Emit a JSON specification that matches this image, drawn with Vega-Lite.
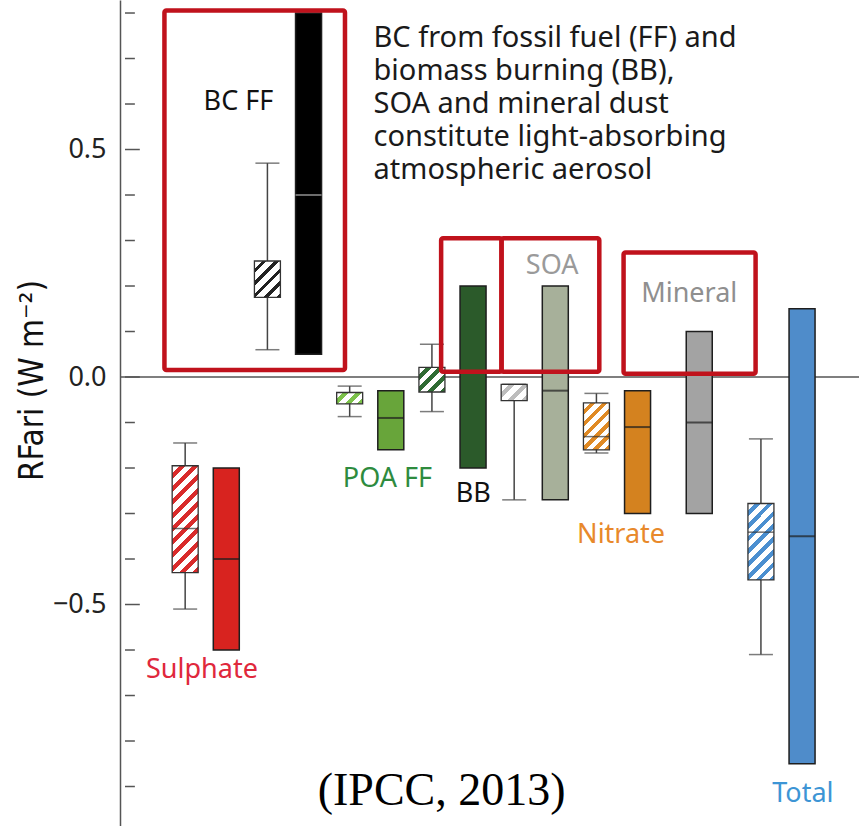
{
  "$schema": "https://vega.github.io/schema/vega-lite/v6.json",
  "width": 739,
  "height": 826,
  "autosize": "none",
  "padding": {"left": 120, "top": 0, "right": 0, "bottom": 0},
  "background": "white",
  "config": {"view": {"stroke": null}, "font": "Noto Sans"},
  "datasets": {
    "hatch": [
      {"name": "Sulphate", "slot": 0, "lo": -0.51, "q1": -0.43, "med": -0.333, "q3": -0.195, "hi": -0.145},
      {"name": "BC FF", "slot": 2, "lo": 0.06, "q1": 0.175, "med": null, "q3": 0.255, "hi": 0.47},
      {"name": "POA FF", "slot": 4, "lo": -0.087, "q1": -0.059, "med": null, "q3": -0.034, "hi": -0.02},
      {"name": "BB", "slot": 6, "lo": -0.076, "q1": -0.033, "med": null, "q3": 0.021, "hi": 0.072},
      {"name": "SOA", "slot": 8, "lo": -0.27, "q1": -0.052, "med": null, "q3": -0.016, "hi": -0.016},
      {"name": "Nitrate", "slot": 10, "lo": -0.167, "q1": -0.16, "med": -0.131, "q3": -0.057, "hi": -0.036},
      {"name": "Total", "slot": 14, "lo": -0.61, "q1": -0.446, "med": -0.341, "q3": -0.278, "hi": -0.136}
    ],
    "solid": [
      {"name": "Sulphate", "slot": 1, "lo": -0.6, "med": -0.4, "hi": -0.2},
      {"name": "BC FF", "slot": 3, "lo": 0.05, "med": 0.4, "hi": 0.8},
      {"name": "POA FF", "slot": 5, "lo": -0.16, "med": -0.09, "hi": -0.03},
      {"name": "BB", "slot": 7, "lo": -0.2, "med": null, "hi": 0.2},
      {"name": "SOA", "slot": 9, "lo": -0.27, "med": -0.03, "hi": 0.2},
      {"name": "Nitrate", "slot": 11, "lo": -0.3, "med": -0.11, "hi": -0.03},
      {"name": "Mineral", "slot": 12.5, "lo": -0.3, "med": -0.1, "hi": 0.1},
      {"name": "Total", "slot": 15, "lo": -0.85, "med": -0.35, "hi": 0.15}
    ],
    "frames": [
      {"slot": -0.504, "slot2": 3.886, "top": 0.8055, "bottom": 0.0154},
      {"slot": 6.224, "slot2": 7.692, "top": 0.305, "bottom": 0.0117},
      {"slot": 7.692, "slot2": 10.07, "top": 0.305, "bottom": 0.0117},
      {"slot": 10.66, "slot2": 13.87, "top": 0.2736, "bottom": 0.0073}
    ],
    "labels": [
      {"label": "BC FF", "slot": 1.295, "v": 0.587},
      {"label": "Sulphate", "slot": 0.408, "v": -0.6615},
      {"label": "POA FF", "slot": 4.917, "v": -0.2418},
      {"label": "BB", "slot": 7.004, "v": -0.2747},
      {"label": "SOA", "slot": 8.923, "v": 0.2264},
      {"label": "Mineral", "slot": 12.257, "v": 0.1648},
      {"label": "Nitrate", "slot": 10.6, "v": -0.3648},
      {"label": "Total", "slot": 15.02, "v": -0.934}
    ],
    "minorTicks": [
      {"v": -0.9}, {"v": -0.8}, {"v": -0.7}, {"v": -0.6}, {"v": -0.4}, {"v": -0.3}, {"v": -0.2}, {"v": -0.1},
      {"v": 0.1}, {"v": 0.2}, {"v": 0.3}, {"v": 0.4}, {"v": 0.6}, {"v": 0.7}, {"v": 0.8}
    ],
    "majorTicks": [{"v": -0.5}, {"v": 0}, {"v": 0.5}]
  },
  "layer": [
    {
      "data": {"values": [{"v": 0}]},
      "mark": {"type": "rule", "color": "#555", "strokeWidth": 1.5},
      "encoding": {
        "y": {
          "field": "v",
          "type": "quantitative",
          "scale": {"domain": [-0.9868, 0.8286], "nice": false, "zero": false},
          "axis": {
            "title": "RFari (W m⁻²)",
            "values": [-0.5, 0, 0.5],
            "format": ".1f",
            "labelFont": "Noto Sans",
            "labelFontSize": 27,
            "labelColor": "#222",
            "labelPadding": 14,
            "labelOverlap": false,
            "ticks": false,
            "domainColor": "#555",
            "domainWidth": 1.5,
            "grid": false,
            "titleFont": "Liberation Sans Narrow, DejaVu Sans Condensed, sans-serif",
            "titleFontSize": 33,
            "titleFontWeight": "normal",
            "titleColor": "#111",
            "titleAngle": 270,
            "titleX": -78,
            "titleY": 380,
            "titleAlign": "center",
            "titleBaseline": "alphabetic"
          }
        }
      }
    },
    {
      "data": {"name": "minorTicks"},
      "mark": {"type": "rule", "color": "#555", "strokeWidth": 1.5},
      "encoding": {
        "x": {"datum": -1.463, "type": "quantitative", "scale": {"domain": [-1.463, 16.263], "nice": false, "zero": false}, "axis": null},
        "x2": {"datum": -1.223},
        "y": {"field": "v", "type": "quantitative"}
      }
    },
    {
      "data": {"name": "majorTicks"},
      "mark": {"type": "rule", "color": "#555", "strokeWidth": 1.5},
      "encoding": {
        "x": {"datum": -1.463, "type": "quantitative", "axis": null},
        "x2": {"datum": -1.103},
        "y": {"field": "v", "type": "quantitative"}
      }
    },
    {
      "data": {"name": "hatch"},
      "mark": {"type": "rule", "color": "#444", "strokeWidth": 1.5},
      "encoding": {
        "x": {"field": "slot", "type": "quantitative", "scale": {"domain": [-1.463, 16.263], "nice": false, "zero": false}, "axis": null},
        "y": {"field": "lo", "type": "quantitative"},
        "y2": {"field": "hi"}
      }
    },
    {
      "data": {"name": "hatch"},
      "mark": {"type": "tick", "orient": "horizontal", "size": 24, "thickness": 1.5, "color": "#444"},
      "encoding": {
        "x": {"field": "slot", "type": "quantitative", "axis": null},
        "y": {"field": "lo", "type": "quantitative"}
      }
    },
    {
      "data": {"name": "hatch"},
      "mark": {"type": "tick", "orient": "horizontal", "size": 24, "thickness": 1.5, "color": "#444"},
      "encoding": {
        "x": {"field": "slot", "type": "quantitative", "axis": null},
        "y": {"field": "hi", "type": "quantitative"}
      }
    },
    {
      "data": {"name": "hatch"},
      "transform": [{"filter": "datum.name === 'Sulphate'"}],
      "mark": {
        "type": "bar", "orient": "vertical", "width": 26, "stroke": "#333", "strokeWidth": 1.3,
        "fill": {"gradient": "linear", "x1": 0, "y1": 0, "x2": 0.2855, "y2": 1.173, "stops": [
          {"offset": 0, "color": "#ffffff"}, {"offset": 0.055, "color": "#ffffff"}, {"offset": 0.055, "color": "#d92b2b"}, {"offset": 0.1, "color": "#d92b2b"},
          {"offset": 0.1, "color": "#ffffff"}, {"offset": 0.155, "color": "#ffffff"}, {"offset": 0.155, "color": "#d92b2b"}, {"offset": 0.2, "color": "#d92b2b"},
          {"offset": 0.2, "color": "#ffffff"}, {"offset": 0.255, "color": "#ffffff"}, {"offset": 0.255, "color": "#d92b2b"}, {"offset": 0.3, "color": "#d92b2b"},
          {"offset": 0.3, "color": "#ffffff"}, {"offset": 0.355, "color": "#ffffff"}, {"offset": 0.355, "color": "#d92b2b"}, {"offset": 0.4, "color": "#d92b2b"},
          {"offset": 0.4, "color": "#ffffff"}, {"offset": 0.455, "color": "#ffffff"}, {"offset": 0.455, "color": "#d92b2b"}, {"offset": 0.5, "color": "#d92b2b"},
          {"offset": 0.5, "color": "#ffffff"}, {"offset": 0.555, "color": "#ffffff"}, {"offset": 0.555, "color": "#d92b2b"}, {"offset": 0.6, "color": "#d92b2b"},
          {"offset": 0.6, "color": "#ffffff"}, {"offset": 0.655, "color": "#ffffff"}, {"offset": 0.655, "color": "#d92b2b"}, {"offset": 0.7, "color": "#d92b2b"},
          {"offset": 0.7, "color": "#ffffff"}, {"offset": 0.755, "color": "#ffffff"}, {"offset": 0.755, "color": "#d92b2b"}, {"offset": 0.8, "color": "#d92b2b"},
          {"offset": 0.8, "color": "#ffffff"}, {"offset": 0.855, "color": "#ffffff"}, {"offset": 0.855, "color": "#d92b2b"}, {"offset": 0.9, "color": "#d92b2b"},
          {"offset": 0.9, "color": "#ffffff"}, {"offset": 0.955, "color": "#ffffff"}, {"offset": 0.955, "color": "#d92b2b"}, {"offset": 1, "color": "#d92b2b"}
        ]}
      },
      "encoding": {
        "x": {"field": "slot", "type": "quantitative", "axis": null},
        "y": {"field": "q1", "type": "quantitative"},
        "y2": {"field": "q3"}
      }
    },
    {
      "data": {"name": "hatch"},
      "transform": [{"filter": "datum.name === 'BC FF'"}],
      "mark": {
        "type": "bar", "orient": "vertical", "width": 26, "stroke": "#333", "strokeWidth": 1.3,
        "fill": {"gradient": "linear", "x1": 0, "y1": 0, "x2": 0.811, "y2": 1.135, "stops": [
          {"offset": 0, "color": "#ffffff"}, {"offset": 0.13, "color": "#ffffff"}, {"offset": 0.13, "color": "#222222"}, {"offset": 0.2, "color": "#222222"},
          {"offset": 0.2, "color": "#ffffff"}, {"offset": 0.33, "color": "#ffffff"}, {"offset": 0.33, "color": "#222222"}, {"offset": 0.4, "color": "#222222"},
          {"offset": 0.4, "color": "#ffffff"}, {"offset": 0.53, "color": "#ffffff"}, {"offset": 0.53, "color": "#222222"}, {"offset": 0.6, "color": "#222222"},
          {"offset": 0.6, "color": "#ffffff"}, {"offset": 0.73, "color": "#ffffff"}, {"offset": 0.73, "color": "#222222"}, {"offset": 0.8, "color": "#222222"},
          {"offset": 0.8, "color": "#ffffff"}, {"offset": 0.93, "color": "#ffffff"}, {"offset": 0.93, "color": "#222222"}, {"offset": 1, "color": "#222222"}
        ]}
      },
      "encoding": {
        "x": {"field": "slot", "type": "quantitative", "axis": null},
        "y": {"field": "q1", "type": "quantitative"},
        "y2": {"field": "q3"}
      }
    },
    {
      "data": {"name": "hatch"},
      "transform": [{"filter": "datum.name === 'POA FF'"}],
      "mark": {
        "type": "bar", "orient": "vertical", "width": 26, "stroke": "#333", "strokeWidth": 1.3,
        "fill": {"gradient": "linear", "x1": 0, "y1": 0, "x2": 1.206, "y2": 0.528, "stops": [
          {"offset": 0, "color": "#ffffff"}, {"offset": 0.183, "color": "#ffffff"}, {"offset": 0.183, "color": "#7cc24a"}, {"offset": 0.333, "color": "#7cc24a"},
          {"offset": 0.333, "color": "#ffffff"}, {"offset": 0.517, "color": "#ffffff"}, {"offset": 0.517, "color": "#7cc24a"}, {"offset": 0.667, "color": "#7cc24a"},
          {"offset": 0.667, "color": "#ffffff"}, {"offset": 0.85, "color": "#ffffff"}, {"offset": 0.85, "color": "#7cc24a"}, {"offset": 1, "color": "#7cc24a"}
        ]}
      },
      "encoding": {
        "x": {"field": "slot", "type": "quantitative", "axis": null},
        "y": {"field": "q1", "type": "quantitative"},
        "y2": {"field": "q3"}
      }
    },
    {
      "data": {"name": "hatch"},
      "transform": [{"filter": "datum.name === 'BB'"}],
      "mark": {
        "type": "bar", "orient": "vertical", "width": 26, "stroke": "#333", "strokeWidth": 1.3,
        "fill": {"gradient": "linear", "x1": 0, "y1": 0, "x2": 1.027, "y2": 0.971, "stops": [
          {"offset": 0, "color": "#ffffff"}, {"offset": 0.1375, "color": "#ffffff"}, {"offset": 0.1375, "color": "#2f6b33"}, {"offset": 0.25, "color": "#2f6b33"},
          {"offset": 0.25, "color": "#ffffff"}, {"offset": 0.3875, "color": "#ffffff"}, {"offset": 0.3875, "color": "#2f6b33"}, {"offset": 0.5, "color": "#2f6b33"},
          {"offset": 0.5, "color": "#ffffff"}, {"offset": 0.6375, "color": "#ffffff"}, {"offset": 0.6375, "color": "#2f6b33"}, {"offset": 0.75, "color": "#2f6b33"},
          {"offset": 0.75, "color": "#ffffff"}, {"offset": 0.8875, "color": "#ffffff"}, {"offset": 0.8875, "color": "#2f6b33"}, {"offset": 1, "color": "#2f6b33"}
        ]}
      },
      "encoding": {
        "x": {"field": "slot", "type": "quantitative", "axis": null},
        "y": {"field": "q1", "type": "quantitative"},
        "y2": {"field": "q3"}
      }
    },
    {
      "data": {"name": "hatch"},
      "transform": [{"filter": "datum.name === 'SOA'"}],
      "mark": {
        "type": "bar", "orient": "vertical", "width": 26, "stroke": "#333", "strokeWidth": 1.3,
        "fill": {"gradient": "linear", "x1": 0, "y1": 0, "x2": 1.167, "y2": 0.735, "stops": [
          {"offset": 0, "color": "#ffffff"}, {"offset": 0.183, "color": "#ffffff"}, {"offset": 0.183, "color": "#bdbdbd"}, {"offset": 0.333, "color": "#bdbdbd"},
          {"offset": 0.333, "color": "#ffffff"}, {"offset": 0.517, "color": "#ffffff"}, {"offset": 0.517, "color": "#bdbdbd"}, {"offset": 0.667, "color": "#bdbdbd"},
          {"offset": 0.667, "color": "#ffffff"}, {"offset": 0.85, "color": "#ffffff"}, {"offset": 0.85, "color": "#bdbdbd"}, {"offset": 1, "color": "#bdbdbd"}
        ]}
      },
      "encoding": {
        "x": {"field": "slot", "type": "quantitative", "axis": null},
        "y": {"field": "q1", "type": "quantitative"},
        "y2": {"field": "q3"}
      }
    },
    {
      "data": {"name": "hatch"},
      "transform": [{"filter": "datum.name === 'Nitrate'"}],
      "mark": {
        "type": "bar", "orient": "vertical", "width": 26, "stroke": "#333", "strokeWidth": 1.3,
        "fill": {"gradient": "linear", "x1": 0, "y1": 0, "x2": 0.66, "y2": 1.19, "stops": [
          {"offset": 0, "color": "#ffffff"}, {"offset": 0.092, "color": "#ffffff"}, {"offset": 0.092, "color": "#e08a24"}, {"offset": 0.167, "color": "#e08a24"},
          {"offset": 0.167, "color": "#ffffff"}, {"offset": 0.258, "color": "#ffffff"}, {"offset": 0.258, "color": "#e08a24"}, {"offset": 0.333, "color": "#e08a24"},
          {"offset": 0.333, "color": "#ffffff"}, {"offset": 0.425, "color": "#ffffff"}, {"offset": 0.425, "color": "#e08a24"}, {"offset": 0.5, "color": "#e08a24"},
          {"offset": 0.5, "color": "#ffffff"}, {"offset": 0.592, "color": "#ffffff"}, {"offset": 0.592, "color": "#e08a24"}, {"offset": 0.667, "color": "#e08a24"},
          {"offset": 0.667, "color": "#ffffff"}, {"offset": 0.758, "color": "#ffffff"}, {"offset": 0.758, "color": "#e08a24"}, {"offset": 0.833, "color": "#e08a24"},
          {"offset": 0.833, "color": "#ffffff"}, {"offset": 0.925, "color": "#ffffff"}, {"offset": 0.925, "color": "#e08a24"}, {"offset": 1, "color": "#e08a24"}
        ]}
      },
      "encoding": {
        "x": {"field": "slot", "type": "quantitative", "axis": null},
        "y": {"field": "q1", "type": "quantitative"},
        "y2": {"field": "q3"}
      }
    },
    {
      "data": {"name": "hatch"},
      "transform": [{"filter": "datum.name === 'Total'"}],
      "mark": {
        "type": "bar", "orient": "vertical", "width": 26, "stroke": "#333", "strokeWidth": 1.3,
        "fill": {"gradient": "linear", "x1": 0, "y1": 0, "x2": 0.409, "y2": 1.2, "stops": [
          {"offset": 0, "color": "#ffffff"}, {"offset": 0.069, "color": "#ffffff"}, {"offset": 0.069, "color": "#4b8fd0"}, {"offset": 0.125, "color": "#4b8fd0"},
          {"offset": 0.125, "color": "#ffffff"}, {"offset": 0.194, "color": "#ffffff"}, {"offset": 0.194, "color": "#4b8fd0"}, {"offset": 0.25, "color": "#4b8fd0"},
          {"offset": 0.25, "color": "#ffffff"}, {"offset": 0.319, "color": "#ffffff"}, {"offset": 0.319, "color": "#4b8fd0"}, {"offset": 0.375, "color": "#4b8fd0"},
          {"offset": 0.375, "color": "#ffffff"}, {"offset": 0.444, "color": "#ffffff"}, {"offset": 0.444, "color": "#4b8fd0"}, {"offset": 0.5, "color": "#4b8fd0"},
          {"offset": 0.5, "color": "#ffffff"}, {"offset": 0.569, "color": "#ffffff"}, {"offset": 0.569, "color": "#4b8fd0"}, {"offset": 0.625, "color": "#4b8fd0"},
          {"offset": 0.625, "color": "#ffffff"}, {"offset": 0.694, "color": "#ffffff"}, {"offset": 0.694, "color": "#4b8fd0"}, {"offset": 0.75, "color": "#4b8fd0"},
          {"offset": 0.75, "color": "#ffffff"}, {"offset": 0.819, "color": "#ffffff"}, {"offset": 0.819, "color": "#4b8fd0"}, {"offset": 0.875, "color": "#4b8fd0"},
          {"offset": 0.875, "color": "#ffffff"}, {"offset": 0.944, "color": "#ffffff"}, {"offset": 0.944, "color": "#4b8fd0"}, {"offset": 1, "color": "#4b8fd0"}
        ]}
      },
      "encoding": {
        "x": {"field": "slot", "type": "quantitative", "axis": null},
        "y": {"field": "q1", "type": "quantitative"},
        "y2": {"field": "q3"}
      }
    },
    {
      "data": {"name": "hatch"},
      "transform": [{"filter": "datum.med != null"}],
      "mark": {"type": "tick", "orient": "horizontal", "size": 26, "thickness": 1.5, "color": "#333"},
      "encoding": {
        "x": {"field": "slot", "type": "quantitative", "axis": null},
        "y": {"field": "med", "type": "quantitative"}
      }
    },
    {
      "data": {"name": "solid"},
      "mark": {"type": "bar", "orient": "vertical", "width": 26, "stroke": "#1e1e1e", "strokeWidth": 1.5},
      "encoding": {
        "x": {"field": "slot", "type": "quantitative", "axis": null},
        "y": {"field": "lo", "type": "quantitative"},
        "y2": {"field": "hi"},
        "fill": {
          "field": "name",
          "type": "nominal",
          "scale": {
            "domain": ["Sulphate", "BC FF", "POA FF", "BB", "SOA", "Nitrate", "Mineral", "Total"],
            "range": ["#d8231f", "#000000", "#68a53a", "#2b5a2a", "#a7b09a", "#d4821f", "#a3a3a3", "#4f8cca"]
          },
          "legend": null
        }
      }
    },
    {
      "data": {"name": "solid"},
      "transform": [{"filter": "datum.med != null"}],
      "mark": {"type": "tick", "orient": "horizontal", "size": 26, "thickness": 2},
      "encoding": {
        "x": {"field": "slot", "type": "quantitative", "axis": null},
        "y": {"field": "med", "type": "quantitative"},
        "color": {"condition": {"test": "datum.name === 'BC FF'", "value": "#9a9a9a"}, "value": "#1e1e1e"}
      }
    },
    {
      "data": {"name": "frames"},
      "mark": {"type": "rect", "filled": false, "stroke": "#c0121c", "strokeWidth": 4.5, "cornerRadius": 2},
      "encoding": {
        "x": {"field": "slot", "type": "quantitative", "axis": null},
        "x2": {"field": "slot2"},
        "y": {"field": "bottom", "type": "quantitative"},
        "y2": {"field": "top"}
      }
    },
    {
      "data": {"name": "labels"},
      "mark": {"type": "text", "font": "Noto Sans", "fontSize": 27, "align": "center", "baseline": "alphabetic"},
      "encoding": {
        "x": {"field": "slot", "type": "quantitative", "axis": null},
        "y": {"field": "v", "type": "quantitative"},
        "text": {"field": "label"},
        "color": {
          "field": "label",
          "type": "nominal",
          "scale": {
            "domain": ["BC FF", "Sulphate", "POA FF", "BB", "SOA", "Mineral", "Nitrate", "Total"],
            "range": ["#111111", "#e0283c", "#2e8b3e", "#111111", "#9a9a9a", "#8f8f8f", "#e8892b", "#3d95d5"]
          },
          "legend": null
        }
      }
    },
    {
      "data": {"values": [{"lines": ["BC from fossil fuel (FF) and", "biomass burning (BB),", "SOA and mineral dust", "constitute light-absorbing", "atmospheric aerosol"], "slot": 4.58, "v": 0.726}]},
      "mark": {"type": "text", "font": "Noto Sans", "fontSize": 29, "lineHeight": 33, "align": "left", "baseline": "alphabetic", "color": "#1a1a1a"},
      "encoding": {
        "x": {"field": "slot", "type": "quantitative", "axis": null},
        "y": {"field": "v", "type": "quantitative"},
        "text": {"field": "lines"}
      }
    },
    {
      "data": {"values": [{"t": "(IPCC, 2013)", "slot": 6.237, "v": -0.9407}]},
      "mark": {"type": "text", "font": "Liberation Serif", "fontSize": 46, "align": "center", "baseline": "alphabetic", "color": "#000000"},
      "encoding": {
        "x": {"field": "slot", "type": "quantitative", "axis": null},
        "y": {"field": "v", "type": "quantitative"},
        "text": {"field": "t"}
      }
    }
  ]
}
